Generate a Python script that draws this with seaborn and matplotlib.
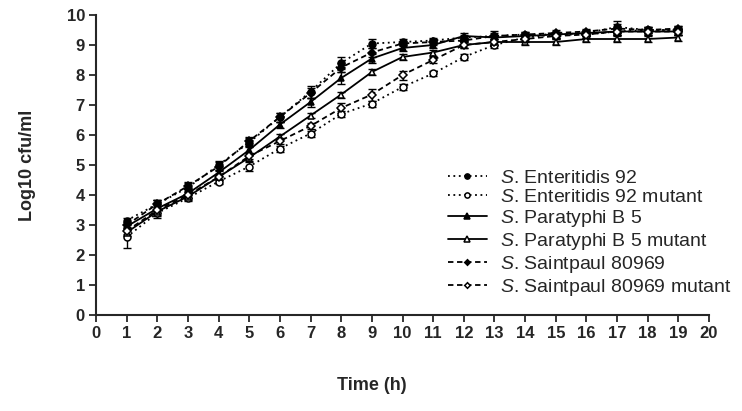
import numpy as np
import pandas as pd
import matplotlib
matplotlib.use("Agg")
import matplotlib.pyplot as plt
import seaborn as sns

time_h = [1, 2, 3, 4, 5, 6, 7, 8, 9, 10, 11, 12, 13, 14, 15, 16, 17, 18, 19]

ent92 = [3.15, 3.7, 4.25, 5.0, 5.75, 6.6, 7.45, 8.4, 9.05, 9.1, 9.15, 9.25, 9.3, 9.35, 9.35, 9.4, 9.6, 9.5, 9.5]
ent92_err = [0.1, 0.15, 0.15, 0.15, 0.15, 0.15, 0.2, 0.2, 0.15, 0.1, 0.1, 0.1, 0.15, 0.1, 0.1, 0.1, 0.2, 0.1, 0.15]
ent92m = [2.6, 3.4, 3.9, 4.45, 4.95, 5.55, 6.05, 6.7, 7.05, 7.6, 8.05, 8.6, 9.0, 9.25, 9.35, 9.35, 9.45, 9.5, 9.5]
ent92m_err = [0.35, 0.1, 0.1, 0.1, 0.15, 0.1, 0.1, 0.1, 0.1, 0.1, 0.1, 0.1, 0.1, 0.1, 0.1, 0.1, 0.1, 0.1, 0.1]
para5 = [2.95, 3.55, 4.05, 4.75, 5.5, 6.35, 7.1, 7.9, 8.55, 8.9, 9.0, 9.3, 9.25, 9.3, 9.35, 9.4, 9.45, 9.45, 9.45]
para5_err = [0.1, 0.3, 0.15, 0.1, 0.15, 0.1, 0.15, 0.2, 0.15, 0.1, 0.1, 0.1, 0.1, 0.1, 0.1, 0.1, 0.1, 0.1, 0.1]
para5m = [2.75, 3.45, 3.95, 4.6, 5.25, 5.95, 6.65, 7.35, 8.1, 8.6, 8.75, 9.0, 9.1, 9.1, 9.1, 9.2, 9.2, 9.2, 9.25]
para5m_err = [0.1, 0.1, 0.1, 0.1, 0.1, 0.1, 0.1, 0.1, 0.1, 0.1, 0.1, 0.1, 0.1, 0.1, 0.1, 0.1, 0.1, 0.1, 0.1]
stp = [3.0, 3.7, 4.3, 4.95, 5.8, 6.6, 7.4, 8.25, 8.75, 9.05, 9.1, 9.15, 9.3, 9.35, 9.4, 9.45, 9.55, 9.5, 9.55]
stp_err = [0.1, 0.15, 0.15, 0.15, 0.15, 0.15, 0.15, 0.15, 0.15, 0.1, 0.1, 0.1, 0.1, 0.1, 0.1, 0.1, 0.15, 0.1, 0.1]
stpm = [2.8, 3.5, 4.0, 4.6, 5.3, 5.8, 6.3, 6.9, 7.35, 8.0, 8.5, 9.0, 9.1, 9.2, 9.3, 9.35, 9.45, 9.45, 9.45]
stpm_err = [0.1, 0.1, 0.1, 0.1, 0.1, 0.1, 0.1, 0.15, 0.2, 0.15, 0.1, 0.1, 0.1, 0.1, 0.1, 0.1, 0.1, 0.1, 0.1]

labels = [r"$\it{S}$. Enteritidis 92", r"$\it{S}$. Enteritidis 92 mutant",
          r"$\it{S}$. Paratyphi B 5", r"$\it{S}$. Paratyphi B 5 mutant",
          r"$\it{S}$. Saintpaul 80969", r"$\it{S}$. Saintpaul 80969 mutant"]
x_ticks = list(range(0, 21))
y_ticks = list(range(0, 11))

sns.set_style("ticks")
plt.rcParams['font.family'] = ['Liberation Sans', 'DejaVu Sans']
plt.rcParams['mathtext.fontset'] = 'custom'
plt.rcParams['mathtext.it'] = 'Liberation Sans:italic'
plt.rcParams['mathtext.rm'] = 'Liberation Sans'

fig = plt.figure(figsize=(7.42, 4.11), dpi=100)
ax = fig.add_axes([96/742, 1-315/411, (709-96)/742, 300/411])

series = [
    (ent92, ent92_err, (0, (1, 2)), 'o', 'black', 5.0),
    (ent92m, ent92m_err, (0, (1, 2)), 'o', 'white', 5.0),
    (para5, para5_err, '-', '^', 'black', 5.0),
    (para5m, para5m_err, '-', '^', 'white', 5.0),
    (stp, stp_err, (0, (3, 2)), 'D', 'black', 3.8),
    (stpm, stpm_err, (0, (3, 2)), 'D', 'white', 3.8),
]

for (vals, err, ls, mk, mfc, ms), lab in zip(series, labels):
    df = pd.DataFrame({'t': time_h, 'v': vals})
    ax.errorbar(time_h, vals, yerr=err, fmt='none', ecolor='black',
                elinewidth=1.0, capsize=3, capthick=1.0, zorder=2)
    sns.lineplot(data=df, x='t', y='v', ax=ax, color='black', linestyle=ls,
                 linewidth=1.3, marker=mk, markersize=ms, markerfacecolor=mfc,
                 markeredgecolor='black', markeredgewidth=1.1, label=lab, zorder=3)

ax.set_xlim(0, 20)
ax.set_ylim(0, 10)
ax.set_xticks(x_ticks)
ax.set_yticks(y_ticks)
ax.set_xticklabels([str(t) for t in x_ticks], fontsize=12, fontweight='bold')
ax.set_yticklabels([str(t) for t in y_ticks], fontsize=12, fontweight='bold')
ax.tick_params(direction='out', length=5, width=1.3, pad=3)
for s in ['left', 'bottom']:
    ax.spines[s].set_linewidth(1.5)
sns.despine(ax=ax)
ax.set_xlabel('')
ax.set_ylabel('Log10 cfu/ml', fontsize=13, fontweight='bold', labelpad=22)
fig.text(372/742, 1-385/411, 'Time (h)', fontsize=13, fontweight='bold',
         ha='center', va='center')

ax.legend(loc='upper left', bbox_to_anchor=(448/742, 1-169/411),
          bbox_transform=fig.transFigure, frameon=False, fontsize=14,
          handlelength=2.0, handletextpad=0.7, labelspacing=0.1,
          borderpad=0, borderaxespad=0, numpoints=1, markerscale=0.75)

fig.savefig('out.png', dpi=100)
